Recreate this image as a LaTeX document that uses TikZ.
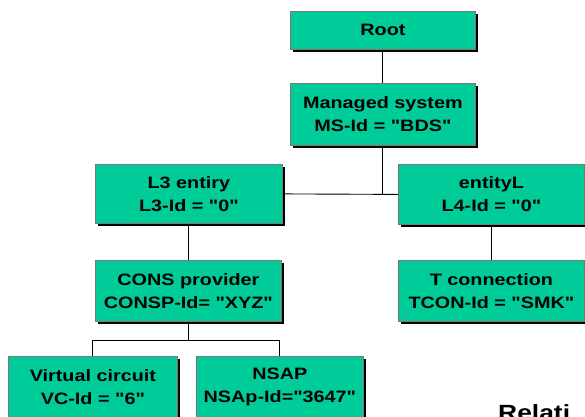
\documentclass[tikz,border=0pt]{standalone}
\usepackage{fontspec}
\newfontfamily\boxfont{Liberation Sans}[FakeStretch=1.2]
\usetikzlibrary{shadows}
\definecolor{boxgreen}{RGB}{0,204,153}
\definecolor{boxedge}{RGB}{120,120,120}
\tikzset{
  box/.style={draw=boxedge, line width=0.8pt, fill=boxgreen, align=center,
    inner sep=0pt, anchor=north west,
    font=\boxfont\fontsize{16.5}{23}\selectfont\bfseries,
    drop shadow={shadow xshift=3pt, shadow yshift=-3pt, fill=black, opacity=1}},
  conn/.style={draw=black, line width=0.9pt}
}
\begin{document}
\begin{tikzpicture}[x=1pt,y=-1pt]
\useasboundingbox (0,0) rectangle (585,416);
\clip (0,0) rectangle (585,416);
\node[box, minimum width=185pt, minimum height=38pt] (root) at (290,11) {Root};
\node[box, minimum width=185pt, minimum height=62pt] (ms) at (290,83) {Managed system\\MS-Id = "BDS"};
\node[box, minimum width=187pt, minimum height=59pt] (l3) at (95,164) {L3 entiry\\L3-Id = "0"};
\node[box, minimum width=186pt, minimum height=60pt] (l4) at (398,164) {entityL\\L4-Id = "0"};
\node[box, minimum width=186pt, minimum height=61pt] (cons) at (95,260) {CONS provider\\CONSP-Id= "XYZ"};
\node[box, minimum width=186pt, minimum height=61pt] (tcon) at (398,260) {T connection\\TCON-Id = "SMK"};
\node[box, minimum width=169pt, minimum height=62pt] (vc) at (8,356) {Virtual circuit\\VC-Id = "6"};
\node[box, minimum width=167pt, minimum height=62pt] (nsap) at (196,356) {NSAP\\NSAp-Id="3647"};
\coordinate (bar) at (188,340);
\draw[conn] (root.south) -- (ms.north);
\draw[conn] (ms.south) -- (ms.south |- l3.east);
\draw[conn] (l3.east) -- (l4.west);
\draw[conn] (l3.south) -- (l3.south |- cons.north);
\draw[conn] (l4.south) -- (l4.south |- tcon.north);
\draw[conn] (cons.south) -- (cons.south |- bar);
\draw[conn] (vc.north) -- (vc.north |- bar) -- (nsap.north |- bar) -- (nsap.north);
\node[anchor=base west, inner sep=0pt, font=\boxfont\fontsize{22}{26}\selectfont\bfseries] (rel) at (498,420) {Relati};
\end{tikzpicture}
\end{document}
